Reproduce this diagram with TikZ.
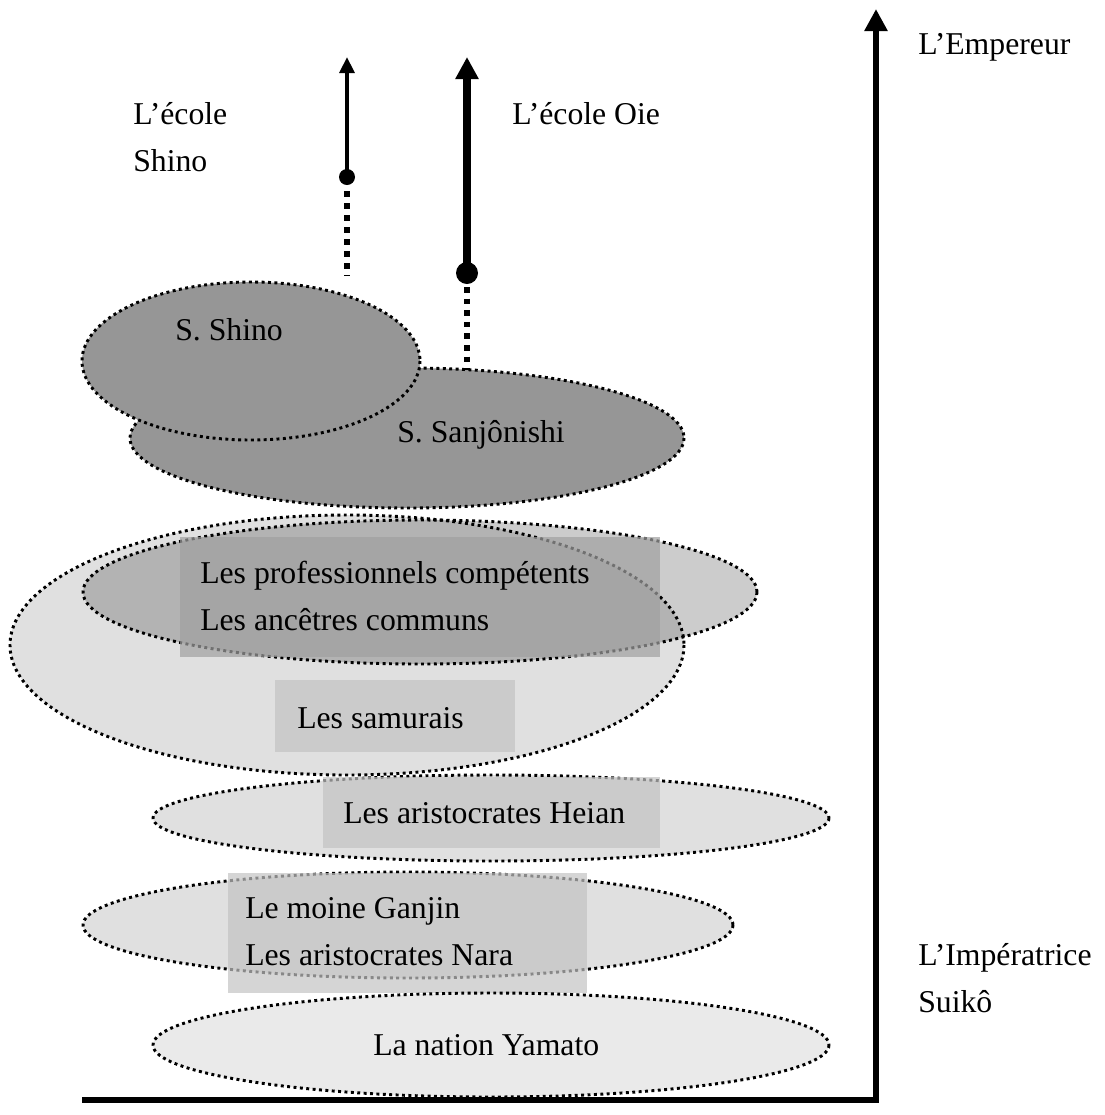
\documentclass[tikz,border=0pt]{standalone}
\usepackage{fontspec}
\setmainfont{Liberation Serif}
\usetikzlibrary{arrows.meta}

\definecolor{schoolgray}{RGB}{150,150,150}
\definecolor{zonegray}{RGB}{224,224,224}
\definecolor{basegray}{RGB}{234,234,234}
\definecolor{boxgray}{RGB}{195,195,195}
\definecolor{profgray}{RGB}{160,160,160}

\tikzset{
  zone/.style={draw=black, line width=2.2pt, dash pattern=on 2.2pt off 2.6pt},
  zonebox/.style={fill=boxgray, fill opacity=0.7},
  lbl/.style={anchor=base west, inner sep=0pt, align=left, font=\fontsize{23.8}{35.25}\selectfont},
}

\begin{document}
\begin{tikzpicture}[x=0.75pt,y=0.75pt,yscale=-1,xscale=1]
\useasboundingbox (0,0) rectangle (1105,1115);

%Shape: Ellipse [S. Sanjonishi]
\draw [zone, fill=schoolgray] (407,438) ellipse (277 and 70);
%Shape: Ellipse [S. Shino]
\draw [zone, fill=schoolgray] (251,361) ellipse (169 and 79);
%Shape: Ellipse [samurais]
\draw [zone, fill=zonegray] (347,645) ellipse (337 and 130);
%Shape: Ellipse [professionnels]
\draw [zone, fill=black, fill opacity=0.2] (420,592) ellipse (337 and 72);
%Shape: Rectangle
\fill [zonebox, fill=profgray] (180,537) rectangle (660,657);
%Shape: Rectangle
\fill [zonebox] (275,680) rectangle (515,752);
%Shape: Ellipse [Heian]
\draw [zone, fill=zonegray] (491,818) ellipse (338 and 43);
%Shape: Rectangle
\fill [zonebox] (323,777) rectangle (660,848);
%Shape: Ellipse [Nara]
\draw [zone, fill=zonegray] (408,925) ellipse (325 and 53);
%Shape: Rectangle
\fill [zonebox] (228,873) rectangle (587,993);
%Shape: Ellipse [Yamato]
\draw [zone, fill=basegray] (491,1045) ellipse (338 and 52);

%Shape: Axis
\coordinate (leftend) at (82,1100);
\coordinate (origin) at (876,1100);
\coordinate (axistop) at (876,9);
\draw [line width=4.5pt, -{Triangle[width=16.5pt,length=16.5pt]}] (leftend) -- (origin) -- (axistop);

%Straight Lines [ecole Shino]
\coordinate (shinodot) at (347,177);
\coordinate (shinotop) at (347,57);
\coordinate (shinostart) at (347,191);
\coordinate (shinofoot) at (347,276);
\draw [line width=3pt, -{Triangle[width=11pt,length=12pt]}] (shinodot) -- (shinotop);
\fill (shinodot) circle (8);
\draw [line width=4.5pt, dash pattern=on 4.5pt off 4.5pt] (shinostart) -- (shinofoot);

%Straight Lines [ecole Oie]
\coordinate (oiedot) at (467,273);
\coordinate (oietop) at (467,57);
\coordinate (oiestart) at (467,287);
\coordinate (oiefoot) at (467,370);
\draw [line width=5.6pt, -{Triangle[width=16.5pt,length=16.5pt]}] (oiedot) -- (oietop);
\fill (oiedot) circle (11);
\draw [line width=4.2pt, dash pattern=on 4.2pt off 4.5pt] (oiestart) -- (oiefoot);

% Text Node
\node [lbl] (emperor) at (918,54) {L’Empereur};
% Text Node
\node [lbl] (empress) at (918,1012) {L’Impératrice\\Suikô};
% Text Node
\node [lbl] (shinoschool) at (133,171) {L’école\\Shino};
% Text Node
\node [lbl] (oieschool) at (512,124) {L’école Oie};
% Text Node
\node [lbl] (shino) at (175,340) {S. Shino};
% Text Node
\node [lbl] (sanjonishi) at (397,442) {S. Sanjônishi};
% Text Node
\node [lbl] (prof) at (200,630) {Les professionnels compétents\\Les ancêtres communs};
% Text Node
\node [lbl] (samurai) at (297,728) {Les samurais};
% Text Node
\node [lbl] (heian) at (343,823) {Les aristocrates Heian};
% Text Node
\node [lbl] (nara) at (245,965) {Le moine Ganjin\\Les aristocrates Nara};
% Text Node
\node [lbl] (yamato) at (373,1055) {La nation Yamato};

\end{tikzpicture}
\end{document}
